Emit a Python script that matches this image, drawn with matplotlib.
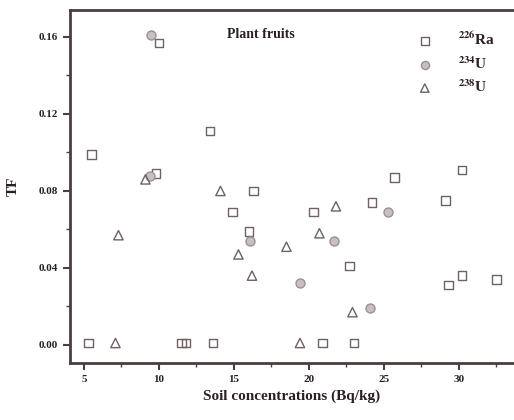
import numpy as np
import matplotlib.pyplot as plt
from matplotlib.ticker import MultipleLocator, FormatStrFormatter

plt.rcParams['font.family'] = ['Liberation Serif', 'DejaVu Serif']
plt.rcParams['font.weight'] = 'bold'
plt.rcParams['mathtext.fontset'] = 'stix'

# 226Ra
ra_x = [5.3, 5.5, 10.0, 9.8, 13.4, 11.5, 11.8, 13.6, 14.9, 16.3, 16.0, 20.3,
        20.9, 23.0, 22.7, 24.2, 25.7, 29.1, 30.2, 30.2, 29.3, 32.5]
ra_y = [0.001, 0.099, 0.157, 0.089, 0.111, 0.001, 0.001, 0.001, 0.069, 0.080,
        0.059, 0.069, 0.001, 0.001, 0.041, 0.074, 0.087, 0.075, 0.091, 0.036,
        0.031, 0.034]
# 234U
u4_x = [9.5, 9.4, 16.1, 21.7, 19.4, 24.1, 25.3]
u4_y = [0.161, 0.088, 0.054, 0.054, 0.032, 0.019, 0.069]
# 238U
u8_x = [7.3, 7.1, 9.1, 14.1, 15.3, 16.2, 18.5, 20.7, 21.8, 22.9, 19.4]
u8_y = [0.057, 0.001, 0.086, 0.080, 0.047, 0.036, 0.051, 0.058, 0.072, 0.017, 0.001]

ink = '#4a3e3e'

fig = plt.figure(figsize=(5.14, 4.2), dpi=100)
ax = fig.add_axes([70/514, 57/420, 444/514, 353/420])

ax.scatter(ra_x, ra_y, marker='s', s=36, facecolors='none', edgecolors='#6e6262',
           linewidths=1.0, label=r'$^{\mathbf{226}}$Ra')
ax.scatter(u4_x, u4_y, marker='o', s=42, facecolors='#c8c0c0', edgecolors='#9a9090',
           linewidths=1.0, label=r'$^{\mathbf{234}}$U')
ax.scatter(u8_x, u8_y, marker='^', s=45, facecolors='none', edgecolors='#6e6262',
           linewidths=1.0, label=r'$^{\mathbf{238}}$U')

ax.set_xlim(4.07, 33.67)
ax.set_ylim(-0.0094, 0.174)
ax.xaxis.set_major_locator(MultipleLocator(5))
ax.xaxis.set_minor_locator(MultipleLocator(2.5))
ax.yaxis.set_major_locator(MultipleLocator(0.04))
ax.yaxis.set_minor_locator(MultipleLocator(0.02))
ax.yaxis.set_major_formatter(FormatStrFormatter('%.2f'))

for s in ['left', 'bottom', 'top']:
    ax.spines[s].set_linewidth(2)
    ax.spines[s].set_color(ink)
ax.spines['right'].set_visible(False)
ax.tick_params(which='major', direction='out', length=5, width=1.5, color=ink,
               labelsize=8, labelcolor='#2a2020')
ax.tick_params(which='minor', direction='out', length=3, width=1, color=ink)

ax.set_xlabel('Soil concentrations (Bq/kg)', fontsize=11, fontweight='bold', color='#2a2020')
ax.set_ylabel('TF', fontsize=11, fontweight='bold', color='#2a2020', labelpad=14)

ax.text(0.43, 0.93, 'Plant fruits', transform=ax.transAxes, ha='center', va='center',
        fontsize=10, fontweight='bold', color='#2a2020')

ax.legend(loc='upper right', bbox_to_anchor=(0.99, 0.98), frameon=False, fontsize=11,
          handletextpad=1.2, labelspacing=0.45, markerscale=0.9, labelcolor='#2a2020')

fig.savefig('out.png', dpi=100)
